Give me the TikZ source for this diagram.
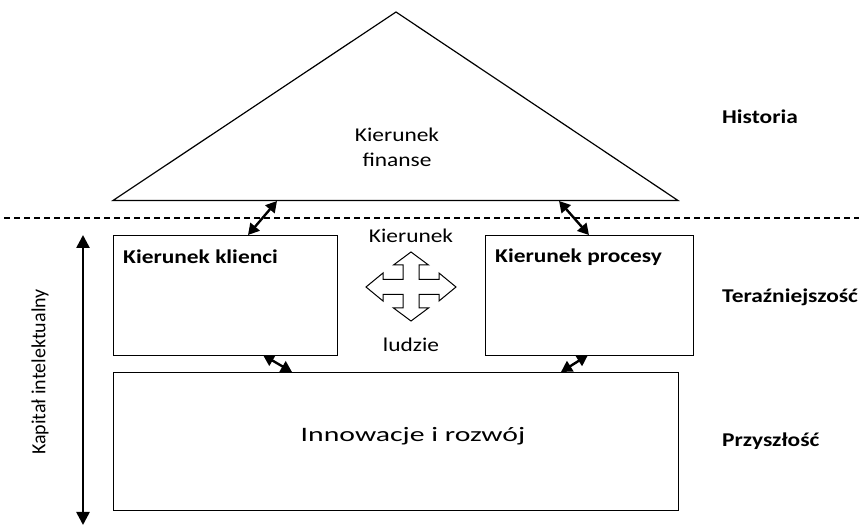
\documentclass[tikz,border=0pt]{standalone}
\usepackage{fontspec}
\setmainfont{Carlito}[FakeStretch=1.2]
\newfontfamily\plainfont{Carlito}
\newfontfamily\widefont{Carlito}[FakeStretch=1.45]
\usetikzlibrary{arrows.meta}
\begin{document}
\begin{tikzpicture}[x=1pt,y=-1pt,
  box/.style={draw,line width=1.2pt,inner sep=0pt},
  dbl/.style={line width=2.4pt,{Triangle[width=12pt,length=11pt]}-{Triangle[width=12pt,length=11pt]}},
  lbl/.style={font=\fontsize{19.5}{25}\selectfont, inner sep=0pt, align=center},
  blbl/.style={inner sep=0pt, font=\fontsize{19.5}{25}\selectfont\bfseries},
]
\useasboundingbox (0,0) rectangle (863,526);
% triangle
\coordinate (apex) at (396,12);
\coordinate (bl) at (113,200.5);
\coordinate (br) at (678,200.5);
\draw[line width=1.2pt, line join=miter] (bl) -- (apex) -- (br) -- cycle;
\node[lbl] (fin) at (397,147) {Kierunek\\finanse};
% dashed line
\coordinate (dl) at (4,218);
\coordinate (dr) at (859,218);
\draw[line width=2pt, dash pattern=on 6pt off 4pt] (dl) -- (dr);
% boxes
\node[box, minimum width=224pt, minimum height=120pt, anchor=north west] (kl) at (113,235) {};
\node[box, minimum width=208pt, minimum height=120pt, anchor=north west] (pr) at (485,235) {};
\node[box, minimum width=565pt, minimum height=138pt, anchor=north west] (ir) at (113,372) {};
\node[blbl, anchor=west] (klt) at (123,257) {Kierunek klienci};
\node[blbl, anchor=west] (prt) at (495,257) {Kierunek procesy};
\node[lbl, font=\widefont\fontsize{20.5}{25}\selectfont] (irt) at (413,436) {Innowacje i rozwój};
% people
\node[lbl] (lu1) at (411,236) {Kierunek};
\node[lbl] (lu2) at (411,345) {ludzie};
\draw[line width=1pt, line join=miter] (411,252) -- (428.5,265) -- (419,265) -- (419,279.5) -- (439,279.5) -- (439,273) -- (456,287)
  -- (439,301) -- (439,294.5) -- (419,294.5) -- (419,308) -- (428.5,308) -- (411,321) -- (393.5,308) -- (403,308)
  -- (403,294.5) -- (383,294.5) -- (383,301) -- (366,287) -- (383,273) -- (383,279.5) -- (403,279.5) -- (403,265)
  -- (393.5,265) -- cycle;
% arrows
\coordinate (a1) at (277,201); \coordinate (b1) at (248,235);
\coordinate (a2) at (559,201); \coordinate (b2) at (589,235);
\coordinate (a3) at (263,355); \coordinate (b3) at (292,372);
\coordinate (a4) at (588,355); \coordinate (b4) at (561,372);
\draw[dbl] (a1) -- (b1);
\draw[dbl] (a2) -- (b2);
\draw[dbl] (a3) -- (b3);
\draw[dbl] (a4) -- (b4);
\coordinate (vt) at (83,235); \coordinate (vb) at (83,525);
\draw[line width=2.6pt,{Triangle[width=13pt,length=13pt]}-{Triangle[width=13pt,length=13pt]}] (vt) -- (vb);
\node[lbl, rotate=90, font=\plainfont\fontsize{20}{24}\selectfont] (kap) at (40,372) {Kapitał intelektualny};
% right labels
\node[blbl, anchor=west] (his) at (722,117) {Historia};
\node[blbl, anchor=west] (ter) at (722,297) {Teraźniejszość};
\node[blbl, anchor=west] (prz) at (722,441) {Przyszłość};
\end{tikzpicture}
\end{document}
